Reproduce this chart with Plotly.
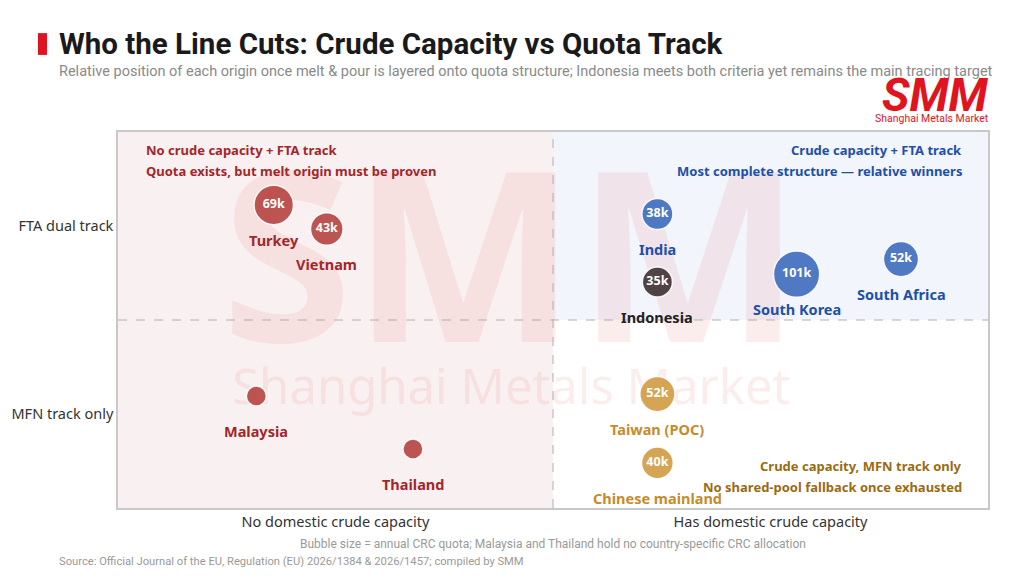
import numpy as np
import plotly.graph_objects as go

# origins, positions on the two criteria (0-1 plot space), CRC quota in kt (None = no country quota)
origins = ["Turkey", "Vietnam", "India", "Indonesia", "South Korea", "South Africa",
           "Malaysia", "Thailand", "Taiwan (POC)", "Chinese mainland"]
capacity_pos = [0.179, 0.240, 0.620, 0.620, 0.780, 0.900, 0.159, 0.339, 0.620, 0.620]
track_pos = [0.806, 0.742, 0.782, 0.601, 0.622, 0.662, 0.298, 0.157, 0.303, 0.120]
quota_k = [69, 43, 38, 35, 101, 52, None, None, 52, 40]
group = ["red", "red", "blue", "dark", "blue", "blue", "red", "red", "gold", "gold"]

x_ticks = [0.25, 0.75]
x_labels = ["No domestic crude capacity", "Has domestic crude capacity"]
y_ticks = [0.25, 0.75]
y_labels = ["MFN track only", "FTA dual track"]

bubble_col = {"red": "#bb4f4d", "blue": "#4a75c1", "dark": "#4a3e3e", "gold": "#d4a24f"}
label_col = {"red": "#a3262a", "blue": "#1d50a8", "dark": "#222222", "gold": "#c68b2c"}

FONT = "Noto Sans"

sizes = [7 + 3.9 * np.sqrt(q) if q else 20 for q in quota_k]
texts = [f"{q}k" if q else "" for q in quota_k]

fig = go.Figure()

# watermark drawn first so bubbles sit on top of it
fig.add_trace(go.Scatter(
    x=[0.452, 0.452], y=[0.60, 0.31], mode="text",
    text=["<b>SMM</b>", "Shanghai Metals Market"],
    textfont=dict(size=[238, 49], color="rgba(225,60,60,0.09)", family=FONT),
    hoverinfo="skip", showlegend=False,
))

fig.add_trace(go.Scatter(
    x=capacity_pos, y=track_pos, mode="markers+text",
    text=texts, textposition="middle center",
    textfont=dict(size=12.5, color="white", family=FONT, weight="bold"),
    marker=dict(size=sizes, color=[bubble_col[g] for g in group], opacity=0.97,
                line=dict(color="rgba(255,255,255,0.9)", width=1.5)),
    hovertext=origins, hoverinfo="text", showlegend=False,
))

for name, xv, yv, g in zip(origins, capacity_pos, track_pos, group):
    fig.add_annotation(x=xv, y=yv, text=f"<b>{name}</b>", showarrow=False, yshift=-35,
                       font=dict(size=14.5, color=label_col[g], family=FONT))

# quadrant backgrounds
fig.add_shape(type="rect", x0=0, x1=0.5, y0=0, y1=1, fillcolor="#f9f1f1", line_width=0, layer="below")
fig.add_shape(type="rect", x0=0.5, x1=1, y0=0.5, y1=1, fillcolor="#f2f5fb", line_width=0, layer="below")
fig.add_shape(type="line", x0=0.5, x1=0.5, y0=0, y1=1, line=dict(color="#b0b0b0", width=1, dash="dash"))
fig.add_shape(type="line", x0=0, x1=1, y0=0.5, y1=0.5, line=dict(color="#b0b0b0", width=1, dash="dash"))

# quadrant notes
notes = [
    (0.030, 0.951, "left", "No crude capacity + FTA track", "#a3262a"),
    (0.030, 0.895, "left", "Quota exists, but melt origin must be proven", "#a3262a"),
    (0.972, 0.951, "right", "Crude capacity + FTA track", "#1d50a8"),
    (0.972, 0.895, "right", "Most complete structure \u2014 relative winners", "#1d50a8"),
    (0.972, 0.112, "right", "Crude capacity, MFN track only", "#9b6b12"),
    (0.972, 0.056, "right", "No shared-pool fallback once exhausted", "#9b6b12"),
]
for xv, yv, anc, txt, col in notes:
    fig.add_annotation(x=xv, y=yv, xref="paper", yref="paper", xanchor=anc, yanchor="middle",
                       text=f"<b>{txt}</b>", showarrow=False, font=dict(size=13, color=col, family=FONT))

# header
fig.add_shape(type="rect", xref="paper", yref="paper", x0=-0.092, x1=-0.0816, y0=1.205, y1=1.263,
              fillcolor="#e0141e", line_width=0)
fig.add_annotation(x=-0.0701, y=1.234, xref="paper", yref="paper", xanchor="left", yanchor="middle",
                   text="<b>Who the Line Cuts: Crude Capacity vs Quota Track</b>", showarrow=False,
                   font=dict(size=29.5, color="#1a1a1a", family="Roboto"))
fig.add_annotation(x=-0.0701, y=1.162, xref="paper", yref="paper", xanchor="left", yanchor="middle",
                   text="Relative position of each origin once melt & pour is layered onto quota structure; "
                        "Indonesia meets both criteria yet remains the main tracing target",
                   showarrow=False, font=dict(size=14.5, color="#8a8a8a", family="Roboto"))
fig.add_annotation(x=1.003, y=1.098, xref="paper", yref="paper", xanchor="right", yanchor="middle",
                   text="<b><i>SMM</i></b>", showarrow=False,
                   font=dict(size=46, color="#e0141e", family="Roboto"))
fig.add_annotation(x=1.003, y=1.037, xref="paper", yref="paper", xanchor="right", yanchor="middle",
                   text="Shanghai Metals Market", showarrow=False,
                   font=dict(size=10.5, color="#e0141e", family="Roboto"))

# footer
fig.add_annotation(x=0.5, y=-0.0957, xref="paper", yref="paper", yanchor="middle",
                   text="Bubble size = annual CRC quota; Malaysia and Thailand hold no country-specific CRC allocation",
                   showarrow=False, font=dict(size=12, color="#9a9a9a", family="Roboto"))
fig.add_annotation(x=-0.0701, y=-0.141, xref="paper", yref="paper", xanchor="left", yanchor="middle",
                   text="Source: Official Journal of the EU, Regulation (EU) 2026/1384 & 2026/1457; compiled by SMM",
                   showarrow=False, font=dict(size=11.2, color="#9a9a9a", family="Roboto"))

# page body adds an 8px offset, margins compensate for it
fig.update_layout(
    width=1024, height=585,
    margin=dict(l=110, r=44, t=124, b=85),
    paper_bgcolor="white", plot_bgcolor="white",
    font=dict(family=FONT),
    xaxis=dict(range=[0, 1], tickvals=x_ticks, ticktext=x_labels, showgrid=False, zeroline=False,
               showline=True, mirror=True, linecolor="#c8c8c8", linewidth=1.5, automargin=False,
               tickfont=dict(size=14.5, color="#333333"), fixedrange=True),
    yaxis=dict(range=[0, 1], tickvals=y_ticks, ticktext=y_labels, showgrid=False, zeroline=False,
               showline=True, mirror=True, linecolor="#c8c8c8", linewidth=1.5, automargin=False,
               tickfont=dict(size=14.5, color="#333333"), fixedrange=True),
)

fig.write_html("out.html")
